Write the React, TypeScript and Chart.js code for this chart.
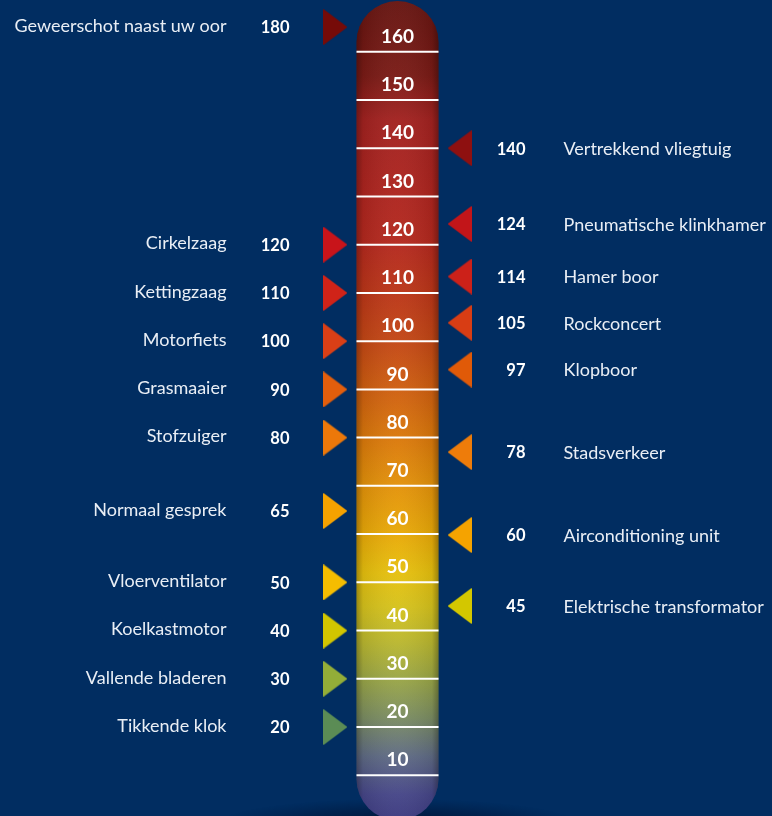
import { useEffect, useRef } from 'react';
import { Chart, registerables } from 'chart.js';

Chart.register(...registerables);

const BG = '#012d61';

// Left column (markers point right, toward the tube)
const leftNames = [
  'Geweerschot naast uw oor',
  'Cirkelzaag',
  'Kettingzaag',
  'Motorfiets',
  'Grasmaaier',
  'Stofzuiger',
  'Normaal gesprek',
  'Vloerventilator',
  'Koelkastmotor',
  'Vallende bladeren',
  'Tikkende klok',
];
const leftValues = [180, 120, 110, 100, 90, 80, 65, 50, 40, 30, 20];
// height on the tube where each marker sits
const leftLevels = [165.1, 120, 110, 100, 90, 80, 64.8, 50, 40, 30, 20];
const leftColors = [
  '#760b08', '#c8141a', '#d02318', '#d93f16', '#e25e0c', '#ec780a',
  '#f5a200', '#f5bd00', '#d2c600', '#93ad38', '#5b8c55',
];

// Right column (markers point left, toward the tube)
const rightNames = [
  'Vertrekkend vliegtuig',
  'Pneumatische klinkhamer',
  'Hamer boor',
  'Rockconcert',
  'Klopboor',
  'Stadsverkeer',
  'Airconditioning unit',
  'Elektrische transformator',
];
const rightValues = [140, 124, 114, 105, 97, 78, 60, 45];
const rightLevels = [140, 124.3, 113.4, 103.8, 94.1, 77, 59.8, 45.1];
const rightColors = [
  '#8e1010', '#c21519', '#cc2119', '#d83d14', '#e05a08', '#ee7c0a', '#f5a300', '#d3c700',
];

// Thermometer scale
const scaleTicks = [160, 150, 140, 130, 120, 110, 100, 90, 80, 70, 60, 50, 40, 30, 20, 10];
const tubeStopValues = [170, 155, 146, 130, 120, 110, 100, 90, 80, 70, 60, 52, 45, 38, 30, 22, 14, 6, 1];
const tubeStopColors = [
  '#671511', '#7a1b16', '#a22220', '#ae251f', '#b4291e', '#bb3618', '#c34715',
  '#cf5f10', '#da780b', '#e3920a', '#e8a908', '#e6c00e', '#d6c21c', '#bcb82e',
  '#9aa646', '#7b8d62', '#5f6b84', '#464688', '#3c3a80',
];

const TUBE_TOP = 170.5;
const TUBE_BOTTOM = 0.7;

function makeTriangle(color: string, dir: 'left' | 'right') {
  const c = document.createElement('canvas');
  c.width = 24;
  c.height = 36;
  const g = c.getContext('2d')!;
  g.fillStyle = color;
  g.beginPath();
  if (dir === 'right') {
    g.moveTo(0, 0);
    g.lineTo(24, 18);
    g.lineTo(0, 36);
  } else {
    g.moveTo(24, 0);
    g.lineTo(0, 18);
    g.lineTo(24, 36);
  }
  g.closePath();
  g.fill();
  return c;
}

const tubePlugin = {
  id: 'tube',
  beforeDatasetsDraw(chart: any) {
    const { ctx } = chart;
    const xs = chart.scales.x;
    const ys = chart.scales.y;
    const cx = xs.getPixelForValue(0);
    const half = 41;
    const x0 = cx - half;
    const x1 = cx + half;
    const top = ys.getPixelForValue(TUBE_TOP);
    const bottom = ys.getPixelForValue(TUBE_BOTTOM);
    const r = half;

    ctx.save();
    // floor shadow
    ctx.save();
    ctx.translate(cx, chart.height + 8);
    ctx.scale(1, 0.14);
    const sg = ctx.createRadialGradient(0, 0, 0, 0, 0, 180);
    sg.addColorStop(0, 'rgba(0,12,40,0.75)');
    sg.addColorStop(0.6, 'rgba(0,15,45,0.35)');
    sg.addColorStop(1, 'rgba(0,20,55,0)');
    ctx.fillStyle = sg;
    ctx.beginPath();
    ctx.arc(0, 0, 180, 0, Math.PI * 2);
    ctx.fill();
    ctx.restore();

    // tube path
    const path = new Path2D();
    path.moveTo(x0, top + r);
    path.arc(cx, top + r, r, Math.PI, 0);
    path.lineTo(x1, bottom - r);
    path.arc(cx, bottom - r, r, 0, Math.PI);
    path.closePath();

    const grad = ctx.createLinearGradient(0, top, 0, bottom);
    tubeStopValues.forEach((v, i) => {
      const p = (ys.getPixelForValue(v) - top) / (bottom - top);
      grad.addColorStop(Math.min(1, Math.max(0, p)), tubeStopColors[i]);
    });
    ctx.fillStyle = grad;
    ctx.fill(path);

    const hg = ctx.createLinearGradient(x0, 0, x1, 0);
    hg.addColorStop(0, 'rgba(0,0,0,0.30)');
    hg.addColorStop(0.08, 'rgba(0,0,0,0.08)');
    hg.addColorStop(0.5, 'rgba(255,255,255,0.03)');
    hg.addColorStop(0.92, 'rgba(0,0,0,0.08)');
    hg.addColorStop(1, 'rgba(0,0,0,0.32)');
    ctx.fillStyle = hg;
    ctx.fill(path);

    // tick lines and labels
    ctx.strokeStyle = '#ffffff';
    ctx.lineWidth = 2;
    ctx.fillStyle = '#ffffff';
    ctx.font = 'bold 19px Lato';
    ctx.textAlign = 'center';
    ctx.textBaseline = 'middle';
    scaleTicks.forEach((t) => {
      const y = ys.getPixelForValue(t);
      ctx.beginPath();
      ctx.moveTo(x0, y);
      ctx.lineTo(x1, y);
      ctx.stroke();
      ctx.fillText(String(t), cx, y - 15);
    });
    ctx.restore();
  },
};

const labelPlugin = {
  id: 'labels',
  afterDatasetsDraw(chart: any) {
    const { ctx } = chart;
    ctx.save();
    ctx.textBaseline = 'middle';
    chart.data.datasets.forEach((ds: any, di: number) => {
      const meta = chart.getDatasetMeta(di);
      meta.data.forEach((el: any, i: number) => {
        const x = el.x;
        const y = el.y;
        ctx.fillStyle = '#e9eef5';
        ctx.font = '18px Lato';
        if (ds.side === 'left') {
          ctx.textAlign = 'right';
          ctx.fillText(ds.names[i], x - 109, y - 1);
          ctx.fillStyle = '#ffffff';
          ctx.font = 'bold 16.5px Lato';
          ctx.fillText(String(ds.values[i]), x - 46, y + 1);
        } else {
          ctx.textAlign = 'left';
          ctx.fillText(ds.names[i], x + 104, y + 1);
          ctx.fillStyle = '#ffffff';
          ctx.font = 'bold 16.5px Lato';
          ctx.textAlign = 'right';
          ctx.fillText(String(ds.values[i]), x + 66, y + 1);
        }
      });
    });
    ctx.restore();
  },
};

export default function App() {
  const ref = useRef<HTMLCanvasElement>(null);

  useEffect(() => {
    if (!ref.current) return;
    const leftStyles = leftColors.map((c) => makeTriangle(c, 'right'));
    const rightStyles = rightColors.map((c) => makeTriangle(c, 'left'));

    const chart = new Chart(ref.current, {
      type: 'scatter',
      data: {
        datasets: [
          {
            label: 'links',
            side: 'left',
            names: leftNames,
            values: leftValues,
            data: leftLevels.map((v) => ({ x: -1, y: v })),
            pointStyle: leftStyles,
            pointRadius: 12,
            backgroundColor: leftColors,
            clip: false,
          } as any,
          {
            label: 'rechts',
            side: 'right',
            names: rightNames,
            values: rightValues,
            data: rightLevels.map((v) => ({ x: 1, y: v })),
            pointStyle: rightStyles,
            pointRadius: 12,
            backgroundColor: rightColors,
            clip: false,
          } as any,
        ],
      },
      options: {
        animation: false,
        responsive: false,
        maintainAspectRatio: false,
        layout: { padding: 0, autoPadding: false },
        plugins: {
          legend: { display: false },
          tooltip: { enabled: false },
        },
        events: [],
        scales: {
          x: { type: 'linear', display: false, min: -6.411, max: 6.04 },
          y: { type: 'linear', display: false, min: 1.56, max: 170.72 },
        },
      },
      plugins: [tubePlugin, labelPlugin],
    });
    return () => chart.destroy();
  }, []);

  return (
    <div
      style={{
        position: 'fixed',
        left: 0,
        top: 0,
        width: 772,
        height: 816,
        background: BG,
        overflow: 'hidden',
      }}
    >
      <canvas ref={ref} width={772} height={816} style={{ display: 'block' }} />
    </div>
  );
}
